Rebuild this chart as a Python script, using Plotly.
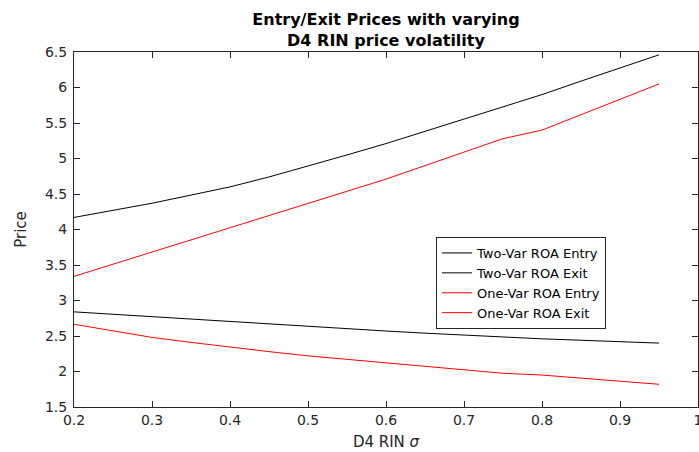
import plotly.graph_objects as go

sigma = [0.2, 0.25, 0.3, 0.35, 0.4, 0.45, 0.5, 0.55, 0.6, 0.65, 0.7, 0.75, 0.8, 0.85, 0.9, 0.95]
two_var_entry = [4.17, 4.27, 4.37, 4.485, 4.60, 4.74, 4.89, 5.05, 5.21, 5.38, 5.55, 5.72, 5.90, 6.09, 6.28, 6.46]
two_var_exit = [2.84, 2.805, 2.77, 2.735, 2.70, 2.665, 2.63, 2.60, 2.57, 2.54, 2.51, 2.485, 2.46, 2.44, 2.42, 2.40]
one_var_entry = [3.34, 3.51, 3.68, 3.85, 4.02, 4.19, 4.36, 4.53, 4.71, 4.90, 5.09, 5.28, 5.40, 5.62, 5.84, 6.05]
one_var_exit = [2.665, 2.57, 2.48, 2.41, 2.34, 2.28, 2.22, 2.17, 2.12, 2.07, 2.02, 1.975, 1.95, 1.91, 1.87, 1.82]

series = [
    ("Two-Var ROA Entry", two_var_entry, "#000000"),
    ("Two-Var ROA Exit", two_var_exit, "#000000"),
    ("One-Var ROA Entry", one_var_entry, "#ff0000"),
    ("One-Var ROA Exit", one_var_exit, "#ff0000"),
]

x_ticks = [0.2, 0.3, 0.4, 0.5, 0.6, 0.7, 0.8, 0.9, 1.0]
x_ticktext = ["0.2", "0.3", "0.4", "0.5", "0.6", "0.7", "0.8", "0.9", "1"]
y_ticks = [1.5, 2, 2.5, 3, 3.5, 4, 4.5, 5, 5.5, 6, 6.5]
y_ticktext = ["1.5", "2", "2.5", "3", "3.5", "4", "4.5", "5", "5.5", "6", "6.5"]

FONT = "DejaVu Sans, Liberation Sans, Arial, sans-serif"

fig = go.Figure()
for name, vals, color in series:
    fig.add_trace(go.Scatter(x=sigma, y=vals, mode="lines", name=name,
                             line=dict(color=color, width=1)))

axis_common = dict(
    showline=True, linecolor="#262626", linewidth=1, mirror="ticks",
    ticks="inside", ticklen=6, tickwidth=1, tickcolor="#262626",
    showgrid=False, zeroline=False, automargin=False,
    ticklabeloverflow="allow",
    tickfont=dict(family=FONT, size=14, color="#262626"),
)

fig.update_layout(
    width=699, height=452,
    margin=dict(l=74, r=1, t=52, b=45),
    paper_bgcolor="white", plot_bgcolor="white",
    font=dict(family=FONT, color="#262626"),
    title=dict(text="<b>Entry/Exit Prices with varying<br>D4 RIN price volatility</b>",
               x=386 / 699, xanchor="center", y=1 - 25 / 452, yanchor="top",
               font=dict(family=FONT, size=16, color="#000000")),
    xaxis=dict(range=[0.2, 1.0], tickvals=x_ticks, ticktext=x_ticktext,
               title=dict(text="D4 RIN <i>σ</i>", font=dict(family=FONT, size=15, color="#262626"), standoff=9),
               **axis_common),
    yaxis=dict(range=[1.5, 6.5], tickvals=y_ticks, ticktext=y_ticktext,
               ticklabelstandoff=3,
               title=dict(text="Price", font=dict(family=FONT, size=15, color="#262626"), standoff=14),
               **axis_common),
    legend=dict(x=(436 - 74) / 624, y=(407 - 237) / 355, xanchor="left", yanchor="top",
                bgcolor="white", bordercolor="#262626", borderwidth=1,
                font=dict(family=FONT, size=13, color="#000000"),
                tracegroupgap=0, itemwidth=30),
    showlegend=True,
)

fig.write_html("out.html",
               config={"displayModeBar": False},
               post_script="document.body.style.margin='0';document.body.style.padding='0';")
